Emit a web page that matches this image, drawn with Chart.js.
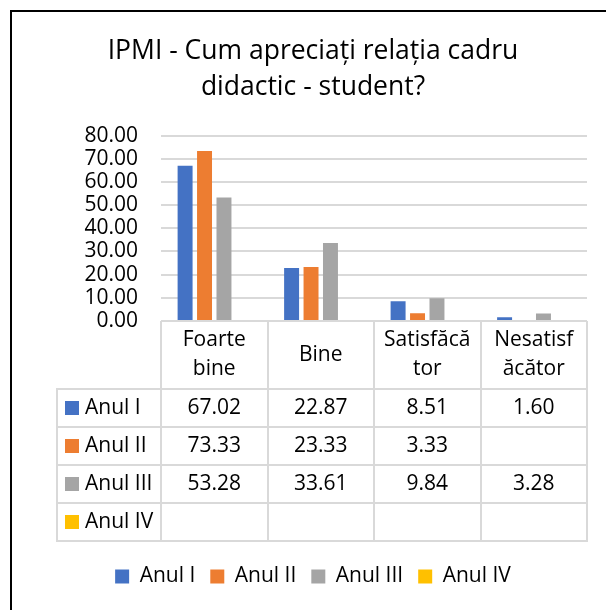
<!DOCTYPE html>
<html>
<head>
<meta charset="utf-8">
<title>IPMI - Cum apreciați relația cadru didactic - student?</title>
<script src="https://cdn.jsdelivr.net/npm/chart.js@4.4.1/dist/chart.umd.min.js"></script>
<style>
    html, body { margin: 0; padding: 0; background: #fff; overflow: hidden; }
    #wrap { position: relative; width: 606px; height: 610px; }
    #chart { position: absolute; left: 0; top: 0; }
    #frame {
        position: absolute; left: 10px; top: 10px; right: 0; bottom: 0;
        border-left: 2px solid #000; border-top: 2px solid #000;
        pointer-events: none;
    }
</style>
</head>
<body>
<div id="wrap">
    <canvas id="chart" width="606" height="610"></canvas>
    <div id="frame"></div>
</div>
<script>
// answer categories (header row of the table, already wrapped)
var categories = [['Foarte', 'bine'], ['Bine'], ['Satisfăcă', 'tor'], ['Nesatisf', 'ăcător']];

// one series per study year, percentages
var seriesNames = ['Anul I', 'Anul II', 'Anul III', 'Anul IV'];
var anulI = [67.02, 22.87, 8.51, 1.60];
var anulII = [73.33, 23.33, 3.33, null];
var anulIII = [53.28, 33.61, 9.84, 3.28];
var anulIV = [null, null, null, null];

var yMin = 0;
var yMax = 80;
var yStep = 10;

var colors = ['#4472c4', '#ed7d31', '#a5a5a5', '#ffc000'];
var gridColor = '#d9d9d9';
var fontFamily = "'Open Sans', sans-serif";

Chart.defaults.font.family = fontFamily;
Chart.defaults.font.size = 21;
Chart.defaults.color = '#000';

var seriesValues = [anulI, anulII, anulIII, anulIV];

/**
 * Draws the data table under the plot, aligned with the category columns
 */
var dataTablePlugin = {
    id: 'dataTable',
    afterDraw: function (chart) {
        var ctx = chart.ctx;
        var area = chart.chartArea;
        var x = chart.scales.x;
        var colW = (area.right - area.left) / categories.length;
        var top = area.bottom;
        var headBottom = top + 68;
        var rowH = 38;
        var tableLeft = 57;
        var bottom = headBottom + rowH * seriesValues.length;

        ctx.save();
        ctx.strokeStyle = gridColor;
        ctx.lineWidth = 2;
        ctx.beginPath();
        // column edges
        for (var i = 0; i <= categories.length; i++) {
            var cx = Math.round(area.left + i * colW);
            ctx.moveTo(cx, top);
            ctx.lineTo(cx, bottom);
        }
        ctx.moveTo(tableLeft, headBottom);
        ctx.lineTo(tableLeft, bottom);
        // row edges
        for (var r = 0; r <= seriesValues.length; r++) {
            var ry = Math.round(headBottom + r * rowH);
            ctx.moveTo(tableLeft - 1, ry);
            ctx.lineTo(area.right + 1, ry);
        }
        ctx.stroke();

        ctx.fillStyle = '#000';
        ctx.font = '21px ' + fontFamily;
        ctx.textAlign = 'center';
        ctx.textBaseline = 'middle';

        // header labels
        var headMid = (top + headBottom) / 2;
        var lineGap = 29;
        categories.forEach(function (lines, i) {
            var cx = x.getPixelForValue(i);
            var y0 = headMid - (lines.length - 1) * lineGap / 2;
            lines.forEach(function (line, j) {
                ctx.fillText(line, cx, y0 + j * lineGap);
            });
        });

        // series rows
        seriesValues.forEach(function (values, r) {
            var cy = headBottom + r * rowH + rowH / 2;
            ctx.fillStyle = colors[r];
            ctx.fillRect(65, Math.round(cy - 7), 14, 14);
            ctx.fillStyle = '#000';
            ctx.textAlign = 'left';
            ctx.fillText(seriesNames[r], 85, cy);
            ctx.textAlign = 'center';
            values.forEach(function (v, i) {
                if (v === null) return;
                ctx.fillText(v.toFixed(2), x.getPixelForValue(i), cy);
            });
        });
        ctx.restore();
    }
};

var ctx = document.getElementById('chart').getContext('2d');

new Chart(ctx, {
    type: 'bar',
    data: {
        labels: categories,
        datasets: seriesNames.map(function (name, i) {
            return {
                label: name,
                data: seriesValues[i],
                backgroundColor: colors[i],
                borderWidth: 0,
                categoryPercentage: 0.73,
                barPercentage: 0.77
            };
        })
    },
    options: {
        responsive: false,
        animation: false,
        layout: {
            padding: { left: 39, right: 19, top: 0, bottom: 13 }
        },
        plugins: {
            title: {
                display: true,
                text: ['IPMI - Cum apreciați relația cadru', 'didactic - student?'],
                color: '#000',
                font: { size: 26.5, weight: 'normal', lineHeight: 1.35 },
                padding: { top: 34, bottom: 30 }
            },
            legend: {
                display: true,
                position: 'bottom',
                labels: {
                    boxWidth: 14,
                    boxHeight: 14,
                    padding: 15,
                    color: '#000',
                    font: { size: 21 }
                }
            },
            tooltip: { enabled: false }
        },
        scales: {
            x: {
                grid: { display: false },
                border: { display: false },
                ticks: { display: false },
                afterFit: function (scale) {
                    scale.height = 230;
                }
            },
            y: {
                min: yMin,
                max: yMax,
                grid: {
                    color: gridColor,
                    lineWidth: 2,
                    drawTicks: false
                },
                border: { display: false },
                ticks: {
                    stepSize: yStep,
                    autoSkip: false,
                    padding: 23,
                    color: '#000',
                    callback: function (v) {
                        return v.toFixed(2);
                    }
                },
                afterFit: function (scale) {
                    scale.width = 122;
                }
            }
        }
    },
    plugins: [dataTablePlugin]
});
</script>
</body>
</html>
